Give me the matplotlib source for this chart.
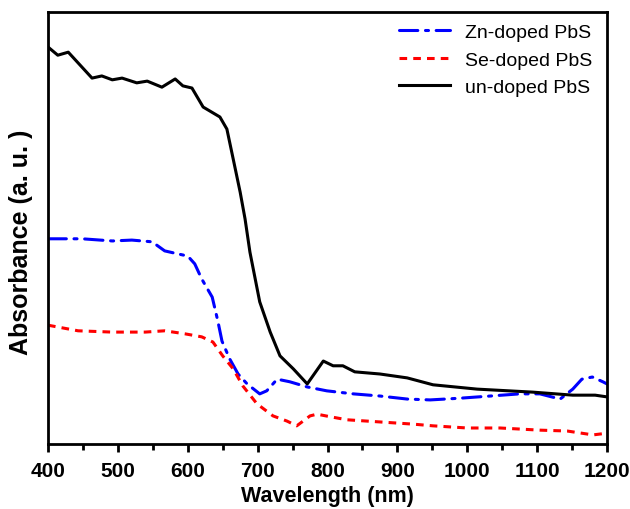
import matplotlib.pyplot as plt
from matplotlib.ticker import MultipleLocator

# wavelength (nm) and absorbance (a.u.)
wl_un = [400, 414, 429, 463, 477, 492, 506, 527, 542, 563, 582, 593, 606, 622, 646,
         656, 665, 675, 682, 689, 703, 718, 732, 751, 771, 794, 808, 822, 839, 875,
         914, 951, 1014, 1094, 1151, 1183, 1200]
abs_un = [0.919, 0.900, 0.907, 0.847, 0.852, 0.843, 0.847, 0.836, 0.840, 0.826, 0.845,
          0.829, 0.824, 0.780, 0.757, 0.729, 0.660, 0.583, 0.521, 0.444, 0.329, 0.259,
          0.204, 0.174, 0.139, 0.192, 0.181, 0.181, 0.167, 0.162, 0.153, 0.137, 0.127,
          0.120, 0.113, 0.113, 0.109]

wl_zn = [400, 449, 492, 520, 549, 567, 586, 600, 610, 620, 635, 643, 649, 660, 672,
         685, 703, 713, 728, 746, 771, 799, 837, 875, 914, 947, 990, 1033, 1075, 1104,
         1133, 1151, 1164, 1179, 1194, 1200]
abs_zn = [0.475, 0.475, 0.470, 0.472, 0.468, 0.447, 0.440, 0.435, 0.417, 0.382, 0.340,
          0.285, 0.238, 0.197, 0.162, 0.139, 0.116, 0.123, 0.150, 0.144, 0.132, 0.123,
          0.116, 0.111, 0.104, 0.102, 0.106, 0.111, 0.116, 0.116, 0.104, 0.127, 0.150,
          0.155, 0.144, 0.139]

wl_se = [400, 443, 492, 539, 567, 596, 620, 636, 650, 665, 679, 699, 722, 742, 756,
         775, 785, 804, 828, 875, 922, 951, 1000, 1047, 1104, 1143, 1180, 1200]
abs_se = [0.275, 0.262, 0.259, 0.259, 0.262, 0.255, 0.248, 0.236, 0.204, 0.174, 0.134,
          0.093, 0.065, 0.053, 0.042, 0.065, 0.069, 0.063, 0.056, 0.051, 0.046, 0.042,
          0.037, 0.037, 0.032, 0.030, 0.021, 0.025]

plt.rcParams['font.family'] = ['Liberation Sans', 'DejaVu Sans']
narrow = ['Liberation Sans Narrow', 'Liberation Sans', 'DejaVu Sans']

fig = plt.figure(figsize=(6.3, 5.1), dpi=100)
ax = fig.add_axes([0.0762, 0.1275, 0.8873, 0.847])

ax.plot(wl_zn, abs_zn, color='#0000ff', lw=2.2, linestyle=(0, (6, 2.5, 1, 2.5)),
        dash_capstyle='round', label='Zn-doped PbS')
ax.plot(wl_se, abs_se, color='#ff0000', lw=2.2, linestyle=(0, (2.5, 2)),
        label='Se-doped PbS')
ax.plot(wl_un, abs_un, color='black', lw=2.2, solid_joinstyle='round',
        label='un-doped PbS')

ax.set_xlim(400, 1200)
ax.set_ylim(0, 1)
ax.xaxis.set_major_locator(MultipleLocator(100))
ax.xaxis.set_minor_locator(MultipleLocator(50))
ax.set_yticks([])
ax.tick_params(axis='x', which='major', direction='out', length=6, width=2, pad=6)
ax.tick_params(axis='x', which='minor', direction='out', length=4, width=2)
for lbl in ax.get_xticklabels():
    lbl.set_fontweight('bold')
    lbl.set_fontsize(15)
    lbl.set_family(narrow)
for s in ax.spines.values():
    s.set_linewidth(2)

ax.set_xlabel('Wavelength (nm)', fontsize=15.5, fontweight='bold', family=narrow,
              labelpad=4)
ax.set_ylabel('Absorbance (a. u. )', fontsize=18, fontweight='bold')
ax.yaxis.set_label_coords(-0.027, 0.469)

ax.legend(loc='upper right', frameon=False, fontsize=14, handlelength=2.6,
          labelspacing=0.5, borderaxespad=0.2, bbox_to_anchor=(0.995, 1.0))

fig.savefig('out.png', dpi=100)
